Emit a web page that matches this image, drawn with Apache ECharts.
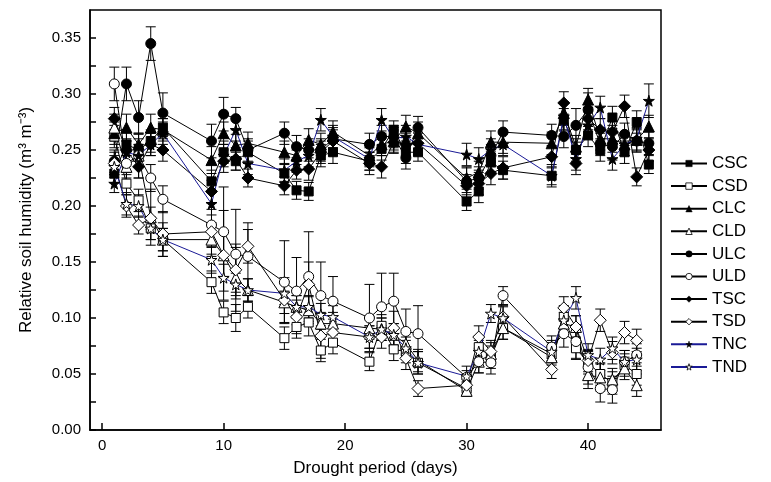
<!DOCTYPE html>
<html><head><meta charset="utf-8">
<script src="https://cdn.jsdelivr.net/npm/echarts@6/dist/echarts.min.js"></script>
<style>html,body{margin:0;padding:0;background:#fff}#c{width:771px;height:482px}</style>
</head><body><div id="c"></div>
<script>
const days = [1,2,3,4,5,9,10,11,12,15,16,17,18,19,22,23,24,25,26,30,31,32,33,37,38,39,40,41,42,43,44,45];
const daysD = [1,2,3,4,5,9,10,11,12,15,16,17,18,19,22,23,24,25,26,30,31,32,33,37,38,39,40,41,42,43,44];
const xTicks = [0,10,20,30,40];
const yLabels = [0,0.05,0.10,0.15,0.20,0.25,0.30,0.35];
const yTicks = [0,0.025,0.05,0.075,0.10,0.125,0.15,0.175,0.20,0.225,0.25,0.275,0.30,0.325,0.35];

const CSC = [0.229,0.255,0.25,0.258,0.27,0.222,0.248,0.24,0.248,0.229,0.214,0.213,0.245,0.248,0.24,0.251,0.268,0.248,0.248,0.204,0.213,0.239,0.232,0.227,0.277,0.25,0.263,0.25,0.279,0.248,0.275,0.237];
const CLC = [0.265,0.27,0.255,0.27,0.268,0.241,0.265,0.254,0.256,0.248,0.245,0.259,0.255,0.266,0.245,0.255,0.258,0.271,0.265,0.225,0.23,0.257,0.257,0.256,0.283,0.253,0.295,0.26,0.26,0.255,0.259,0.271];
const ULC = [0.24,0.309,0.279,0.345,0.283,0.258,0.282,0.278,0.25,0.265,0.253,0.25,0.25,0.26,0.255,0.262,0.262,0.243,0.27,0.222,0.225,0.245,0.266,0.263,0.262,0.272,0.286,0.255,0.253,0.264,0.258,0.256];
const TSC = [0.278,0.25,0.235,0.255,0.25,0.213,0.24,0.242,0.225,0.218,0.232,0.233,0.248,0.258,0.238,0.235,0.257,0.255,0.256,0.218,0.22,0.229,0.234,0.244,0.292,0.238,0.278,0.268,0.266,0.289,0.226,0.25];
const TNC = [0.22,0.248,0.245,0.255,0.265,0.202,0.245,0.268,0.238,0.232,0.24,0.245,0.277,0.262,0.242,0.277,0.26,0.262,0.255,0.246,0.242,0.25,0.255,0.227,0.28,0.242,0.272,0.288,0.242,0.255,0.26,0.294];

const CSD = [0.262,0.22,0.205,0.18,0.17,0.132,0.105,0.10,0.11,0.082,0.092,0.096,0.071,0.078,0.061,0.093,0.072,0.07,0.06,0.037,0.074,0.065,0.091,0.068,0.101,0.073,0.06,0.05,0.042,0.058,0.05];
const CLD = [0.27,0.235,0.245,0.19,0.17,0.17,0.156,0.136,0.125,0.114,0.11,0.107,0.095,0.095,0.091,0.09,0.085,0.077,0.062,0.035,0.061,0.068,0.091,0.065,0.095,0.092,0.049,0.047,0.045,0.055,0.04];
const ULD = [0.309,0.238,0.245,0.225,0.206,0.183,0.177,0.157,0.155,0.132,0.124,0.137,0.12,0.115,0.10,0.11,0.115,0.088,0.086,0.047,0.061,0.06,0.12,0.074,0.086,0.079,0.056,0.037,0.036,0.061,0.067];
const TSD = [0.238,0.2,0.183,0.189,0.175,0.177,0.156,0.143,0.164,0.116,0.101,0.13,0.084,0.087,0.083,0.083,0.091,0.064,0.037,0.04,0.083,0.07,0.101,0.054,0.109,0.092,0.062,0.098,0.069,0.087,0.08];
const TND = [0.235,0.202,0.2,0.18,0.17,0.152,0.136,0.13,0.125,0.122,0.11,0.11,0.103,0.101,0.083,0.09,0.085,0.073,0.06,0.048,0.07,0.104,0.1,0.07,0.098,0.118,0.067,0.063,0.073,0.061,0.063];

const CSC_err = [0.008,0.01,0.01,0.01,0.008,0.01,0.01,0.008,0.01,0.008,0.008,0.008,0.01,0.01,0.008,0.01,0.008,0.01,0.008,0.008,0.01,0.01,0.008,0.008,0.01,0.01,0.01,0.01,0.01,0.01,0.01,0.008];
const CLC_err = [0.01,0.012,0.01,0.012,0.01,0.012,0.01,0.01,0.01,0.01,0.008,0.01,0.01,0.01,0.01,0.01,0.01,0.01,0.01,0.01,0.01,0.01,0.01,0.01,0.01,0.01,0.01,0.01,0.012,0.01,0.01,0.01];
const ULC_err = [0.01,0.015,0.015,0.015,0.018,0.015,0.015,0.01,0.01,0.01,0.01,0.01,0.01,0.01,0.01,0.01,0.01,0.01,0.01,0.012,0.01,0.01,0.01,0.01,0.01,0.015,0.015,0.01,0.012,0.01,0.01,0.01];
const TSC_err = [0.01,0.01,0.01,0.01,0.01,0.01,0.01,0.01,0.008,0.008,0.008,0.01,0.01,0.01,0.01,0.01,0.01,0.01,0.01,0.01,0.01,0.01,0.01,0.01,0.01,0.01,0.01,0.01,0.01,0.01,0.008,0.01];
const TNC_err = [0.008,0.01,0.01,0.01,0.01,0.01,0.01,0.01,0.01,0.01,0.01,0.01,0.01,0.01,0.01,0.01,0.01,0.01,0.01,0.01,0.01,0.01,0.01,0.01,0.012,0.01,0.012,0.01,0.01,0.01,0.01,0.015];
const CSD_err = [0.01,0.01,0.01,0.01,0.01,0.01,0.01,0.012,0.01,0.01,0.01,0.012,0.01,0.01,0.008,0.01,0.01,0.01,0.01,0.005,0.01,0.01,0.01,0.01,0.01,0.01,0.01,0.01,0.01,0.01,0.01];
const CLD_err = [0.012,0.01,0.02,0.025,0.015,0.015,0.04,0.03,0.01,0.01,0.01,0.012,0.01,0.01,0.01,0.01,0.01,0.01,0.01,0.005,0.01,0.01,0.01,0.01,0.01,0.01,0.012,0.012,0.01,0.01,0.01];
const ULD_err = [0.015,0.01,0.01,0.012,0.012,0.02,0.04,0.04,0.03,0.037,0.03,0.04,0.03,0.022,0.03,0.03,0.025,0.02,0.025,0.01,0.01,0.01,0.008,0.01,0.012,0.015,0.015,0.012,0.012,0.01,0.01];
const TSD_err = [0.01,0.01,0.008,0.01,0.02,0.02,0.02,0.02,0.015,0.02,0.015,0.02,0.02,0.012,0.01,0.01,0.015,0.01,0.007,0.005,0.01,0.01,0.01,0.008,0.01,0.01,0.01,0.01,0.01,0.01,0.01];
const TND_err = [0.01,0.01,0.01,0.01,0.01,0.012,0.012,0.01,0.01,0.01,0.01,0.01,0.01,0.01,0.01,0.01,0.01,0.01,0.01,0.005,0.01,0.008,0.01,0.01,0.012,0.01,0.01,0.01,0.01,0.01,0.01];

const STAR = 'path://M50,0 L61,35 L98,35 L68,57 L79,91 L50,70 L21,91 L32,57 L2,35 L39,35 Z';
const BLUE = '#1a1a96';

const defs = [
  {name:'CSC', x:days, v:CSC, e:CSC_err, sym:'rect', size:9, open:false, color:'#000'},
  {name:'CSD', x:daysD, v:CSD, e:CSD_err, sym:'rect', size:9, open:true, color:'#000'},
  {name:'CLC', x:days, v:CLC, e:CLC_err, sym:'triangle', size:11, open:false, color:'#000'},
  {name:'CLD', x:daysD, v:CLD, e:CLD_err, sym:'triangle', size:11, open:true, color:'#000'},
  {name:'ULC', x:days, v:ULC, e:ULC_err, sym:'circle', size:10, open:false, color:'#000'},
  {name:'ULD', x:daysD, v:ULD, e:ULD_err, sym:'circle', size:10, open:true, color:'#000'},
  {name:'TSC', x:days, v:TSC, e:TSC_err, sym:'diamond', size:12, open:false, color:'#000'},
  {name:'TSD', x:daysD, v:TSD, e:TSD_err, sym:'diamond', size:12, open:true, color:'#000'},
  {name:'TNC', x:days, v:TNC, e:TNC_err, sym:STAR, size:11, open:false, color:BLUE},
  {name:'TND', x:daysD, v:TND, e:TND_err, sym:STAR, size:11, open:true, color:BLUE}
];

function errRender(params, api){
  const x = api.value(0), y = api.value(1), e = api.value(2);
  const t = api.coord([x, y + e]), b = api.coord([x, y - e]);
  const w = 5, st = {stroke:'#000', lineWidth:1};
  return {type:'group', children:[
    {type:'line', shape:{x1:t[0],y1:t[1],x2:b[0],y2:b[1]}, style:st},
    {type:'line', shape:{x1:t[0]-w,y1:t[1],x2:t[0]+w,y2:t[1]}, style:st},
    {type:'line', shape:{x1:b[0]-w,y1:b[1],x2:b[0]+w,y2:b[1]}, style:st}
  ]};
}

const series = [];
defs.forEach(d => {
  series.push({
    type:'custom', name:d.name+'_err', renderItem:errRender, z:1, silent:true,
    encode:{x:0,y:1},
    data:d.x.map((xx,i)=>[xx, d.v[i], d.e[i]])
  });
});
defs.forEach(d => {
  series.push({
    type:'line', name:d.name, z:3,
    data:d.x.map((xx,i)=>[xx, d.v[i]]),
    symbol:d.sym, symbolSize:d.size, showAllSymbol:true,
    lineStyle:{color:d.color, width:1},
    itemStyle:{color:d.open?'#fff':'#000', borderColor:'#000', borderWidth:1},
    emphasis:{disabled:true}
  });
});

const legendData = defs.map(d => ({
  name:d.name,
  itemStyle:{color:d.open?'#fff':'#000', borderColor:'#000', borderWidth:d.open?0.8:0.5}
}));

const chart = echarts.init(document.getElementById('c'), null, {renderer:'canvas'});
chart.setOption({
  animation:false,
  backgroundColor:'#fff',
  textStyle:{fontFamily:'Liberation Sans, Arial, sans-serif'},
  grid:{left:90, right:110, top:10, bottom:52, show:true, borderColor:'#000', borderWidth:1.5},
  legend:{
    orient:'vertical', left:665, top:150,
    data:legendData,
    itemWidth:36, itemHeight:8, itemGap:5.6,
    textStyle:{fontSize:17, color:'#000', lineHeight:17, fontFamily:'Liberation Sans, Arial, sans-serif'},
    selectedMode:false
  },
  xAxis:{
    type:'value', min:-1, max:46,
    name:'Drought period (days)', nameLocation:'middle', nameGap:30,
    nameTextStyle:{fontSize:17, color:'#000'},
    axisLine:{onZero:false, lineStyle:{color:'#000', width:1.5}},
    axisTick:{inside:true, length:7, lineStyle:{color:'#000', width:1.5}, customValues:xTicks},
    axisLabel:{color:'#000', fontSize:15, margin:8, customValues:xTicks},
    splitLine:{show:false}
  },
  yAxis:{
    type:'value', min:0, max:0.375,
    name:'Relative soil humidity (m³ m⁻³)', nameLocation:'middle', nameGap:55, nameRotate:90,
    nameTextStyle:{fontSize:17, color:'#000'},
    axisLine:{onZero:false, lineStyle:{color:'#000', width:1.5}},
    axisTick:{inside:true, length:6, lineStyle:{color:'#000', width:1.5}, customValues:yTicks},
    axisLabel:{color:'#000', fontSize:15, margin:9, customValues:yLabels, formatter:v=>v.toFixed(2)},
    splitLine:{show:false}
  },
  series:series
});
</script></body></html>
